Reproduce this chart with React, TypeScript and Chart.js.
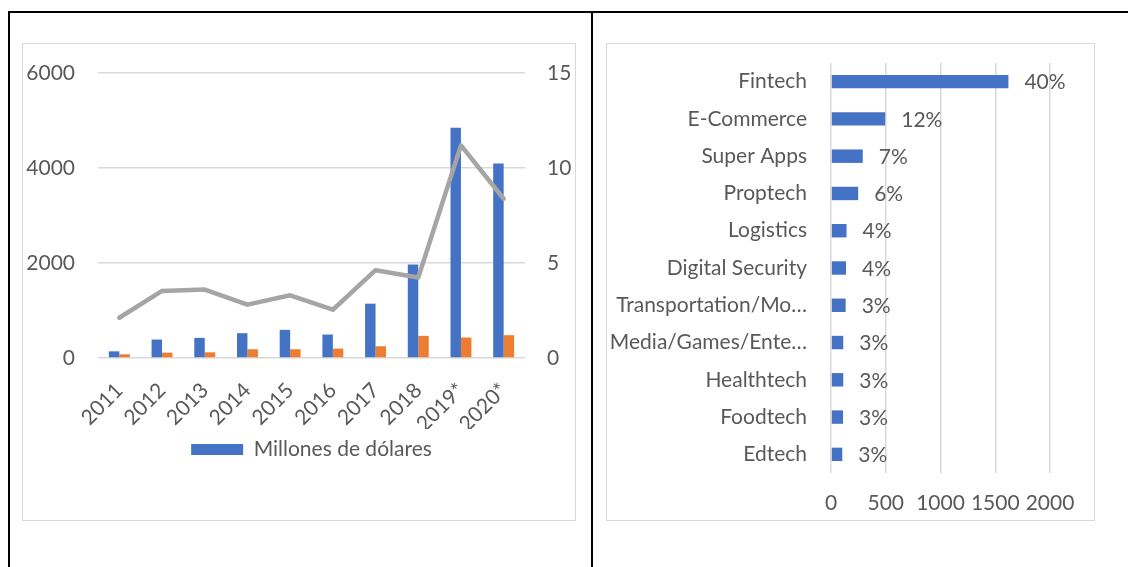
import React, { useEffect, useRef } from "react";
import { Chart, registerables } from "chart.js";

Chart.register(...registerables);

// ---- Data (left chart) ----
const years = ["2011", "2012", "2013", "2014", "2015", "2016", "2017", "2018", "2019*", "2020*"];
const millonesDolares = [140, 388, 424, 522, 593, 494, 1144, 1969, 4849, 4094];
const serieNaranja = [78, 113, 120, 184, 184, 198, 247, 466, 431, 480];
const serieGris = [2.12, 3.53, 3.6, 2.81, 3.3, 2.54, 4.62, 4.24, 11.19, 8.38];
const leftTicks = [0, 2000, 4000, 6000];
const rightTicks = [0, 5, 10, 15];

// ---- Data (right chart) ----
const sectors = [
  "Fintech",
  "E-Commerce",
  "Super Apps",
  "Proptech",
  "Logistics",
  "Digital Security",
  "Transportation/Mo…",
  "Media/Games/Ente…",
  "Healthtech",
  "Foodtech",
  "Edtech",
];
const sectorValues = [1620, 495, 290, 248, 142, 137, 134, 112, 112, 110, 103];
const sectorShares = ["40%", "12%", "7%", "6%", "4%", "4%", "3%", "3%", "3%", "3%", "3%"];
const sectorTicks = [0, 500, 1000, 1500, 2000];

const FONT = "Lato";
const TXT = "#595959";
const GRID = "#d9d9d9";
const BLUE = "#4472c4";
const ORANGE = "#ed7d31";
const GREY = "#a5a5a5";

const plain = (v: any) => String(v);

function LeftChart() {
  const ref = useRef<HTMLCanvasElement | null>(null);
  useEffect(() => {
    if (!ref.current) return;
    const chart = new Chart(ref.current, {
      type: "bar",
      data: {
        labels: years,
        datasets: [
          {
            type: "line",
            label: "Serie 3",
            data: serieGris,
            yAxisID: "y1",
            borderColor: GREY,
            backgroundColor: GREY,
            borderWidth: 4.5,
            pointRadius: 0,
            tension: 0,
            order: 0,
            borderCapStyle: "round",
            borderJoinStyle: "round",
          } as any,
          {
            label: "Millones de dólares",
            data: millonesDolares,
            yAxisID: "y",
            backgroundColor: BLUE,
            categoryPercentage: 0.49,
            barPercentage: 1,
            order: 1,
          },
          {
            label: "Serie 2",
            data: serieNaranja,
            yAxisID: "y",
            backgroundColor: ORANGE,
            categoryPercentage: 0.49,
            barPercentage: 1,
            order: 1,
          },
        ],
      },
      options: {
        animation: false,
        responsive: false,
        maintainAspectRatio: false,
        layout: { padding: { top: 29, left: 0, right: 0, bottom: 50 } },
        plugins: {
          tooltip: { enabled: false },
          legend: {
            position: "bottom",
            fullSize: false,
            labels: {
              filter: (item: any) => item.text === "Millones de dólares",
              boxWidth: 52,
              boxHeight: 11,
              color: TXT,
              font: { family: FONT, size: 21 },
              padding: 10,
            },
          },
        },
        scales: {
          x: {
            grid: { display: false },
            border: { display: false },
            ticks: {
              color: TXT,
              font: { family: FONT, size: 21 },
              minRotation: 45,
              maxRotation: 45,
              padding: 12,
              autoSkip: false,
            },
            afterFit: (s: any) => {
              s.height = 71;
            },
          },
          y: {
            position: "left",
            min: 0,
            max: 6000,
            afterBuildTicks: (s: any) => {
              s.ticks = leftTicks.map((v) => ({ value: v }));
            },
            grid: { color: GRID, lineWidth: 1.5, drawTicks: false },
            border: { display: false },
            ticks: { color: TXT, font: { family: FONT, size: 21 }, padding: 23, callback: plain },
            afterFit: (s: any) => {
              s.width = 75;
              s.paddingTop = 0;
              s.paddingBottom = 0;
            },
          },
          y1: {
            position: "right",
            min: 0,
            max: 15,
            afterBuildTicks: (s: any) => {
              s.ticks = rightTicks.map((v) => ({ value: v }));
            },
            grid: { display: false, drawTicks: false },
            border: { display: false },
            ticks: { color: TXT, font: { family: FONT, size: 21 }, padding: 22, callback: plain },
            afterFit: (s: any) => {
              s.width = 50;
              s.paddingTop = 0;
              s.paddingBottom = 0;
            },
          },
        },
      } as any,
    });
    return () => chart.destroy();
  }, []);
  return <canvas ref={ref} width={552} height={476} style={{ display: "block", width: 552, height: 476 }} />;
}

const shareLabels = {
  id: "shareLabels",
  afterDatasetsDraw(chart: any) {
    const ctx = chart.ctx;
    const meta = chart.getDatasetMeta(0);
    ctx.save();
    ctx.font = `21px ${FONT}`;
    ctx.fillStyle = TXT;
    ctx.textAlign = "left";
    ctx.textBaseline = "middle";
    meta.data.forEach((bar: any, i: number) => {
      ctx.fillText(sectorShares[i], bar.x + 16, bar.y + 1);
    });
    ctx.restore();
  },
};

function RightChart() {
  const ref = useRef<HTMLCanvasElement | null>(null);
  useEffect(() => {
    if (!ref.current) return;
    const chart = new Chart(ref.current, {
      type: "bar",
      data: {
        labels: sectors,
        datasets: [
          {
            label: "Sectores",
            data: sectorValues,
            backgroundColor: BLUE,
            categoryPercentage: 1,
            barPercentage: 0.36,
          },
        ],
      },
      options: {
        indexAxis: "y",
        animation: false,
        responsive: false,
        maintainAspectRatio: false,
        layout: { padding: { top: 19, left: 0, right: 44, bottom: 0 } },
        plugins: { legend: { display: false }, tooltip: { enabled: false } },
        scales: {
          x: {
            min: 0,
            max: 2000,
            afterBuildTicks: (s: any) => {
              s.ticks = sectorTicks.map((v) => ({ value: v }));
            },
            grid: { color: GRID, lineWidth: 1.5, drawTicks: false },
            border: { display: false },
            ticks: {
              color: TXT,
              font: { family: FONT, size: 21 },
              padding: 18,
              minRotation: 0,
              maxRotation: 0,
              autoSkip: false,
              callback: plain,
            },
            afterFit: (s: any) => {
              s.height = 47;
            },
          },
          y: {
            grid: { display: false, drawTicks: false },
            border: { display: false },
            ticks: { color: TXT, font: { family: FONT, size: 21 }, padding: 24, autoSkip: false },
            afterFit: (s: any) => {
              s.width = 224;
              s.paddingTop = 0;
              s.paddingBottom = 0;
            },
          },
        },
      } as any,
      plugins: [shareLabels],
    });
    return () => chart.destroy();
  }, []);
  return <canvas ref={ref} width={487} height={476} style={{ display: "block", width: 487, height: 476 }} />;
}

export default function App() {
  const abs = (l: number, t: number, w: number, h: number, extra: any = {}) => ({
    position: "absolute" as const,
    left: l,
    top: t,
    width: w,
    height: h,
    boxSizing: "border-box" as const,
    ...extra,
  });
  return (
    <div style={{ position: "fixed", inset: 0, background: "#fff", overflow: "hidden" }}>
      {/* table borders */}
      <div style={abs(8, 11, 1120, 2, { background: "#000" })} />
      <div style={abs(8, 11, 2, 556, { background: "#000" })} />
      <div style={abs(591, 11, 2, 556, { background: "#000" })} />
      {/* chart frames */}
      <div style={abs(22, 43, 554, 478, { border: `1px solid ${GRID}` })} />
      <div style={abs(606, 43, 489, 478, { border: `1px solid ${GRID}` })} />
      <div style={abs(23, 44, 552, 476)}>
        <LeftChart />
      </div>
      <div style={abs(607, 44, 487, 476)}>
        <RightChart />
      </div>
    </div>
  );
}
